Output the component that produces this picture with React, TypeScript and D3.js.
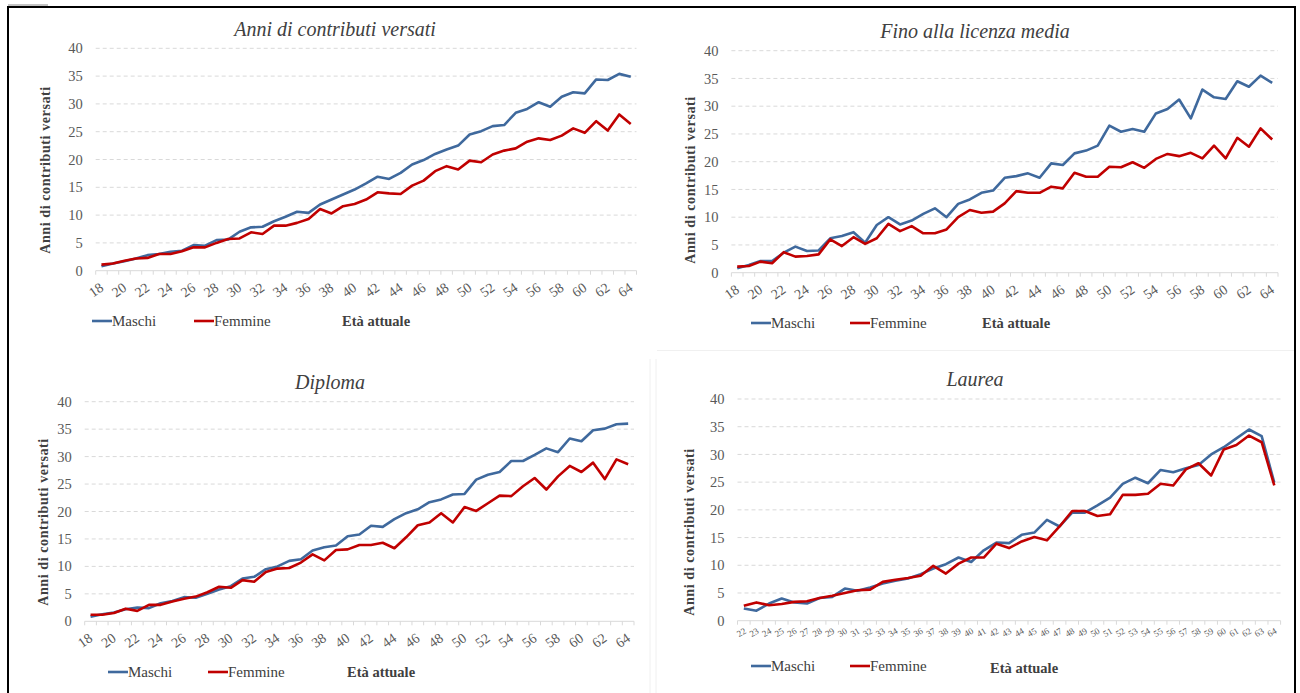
import React from 'react';
import * as d3 from 'd3';

// ---------- data ----------
const AGES = [18,19,20,21,22,23,24,25,26,27,28,29,30,31,32,33,34,35,36,37,38,39,40,41,42,43,44,45,46,47,48,49,50,51,52,53,54,55,56,57,58,59,60,61,62,63,64];
const AGES_LAUREA = [22,23,24,25,26,27,28,29,30,31,32,33,34,35,36,37,38,39,40,41,42,43,44,45,46,47,48,49,50,51,52,53,54,55,56,57,58,59,60,61,62,63,64];
const Y_TICKS = [0,5,10,15,20,25,30,35,40];

const TOT_M = [0.8,1.3,1.7,2.2,2.8,3.0,3.4,3.6,4.6,4.5, 5.5,5.6,7.0,7.8,7.9,8.9,9.7,10.6,10.4,11.9, 12.8,13.7,14.6,15.7,16.9,16.5,17.6,19.1,19.9,21.0, 21.8,22.5,24.5,25.1,26.0,26.2,28.4,29.1,30.3,29.5, 31.3,32.1,31.9,34.4,34.3,35.4,34.9];
const TOT_F = [1.1,1.3,1.8,2.2,2.3,3.0,3.0,3.5,4.2,4.2, 5.0,5.7,5.8,6.9,6.6,8.1,8.1,8.6,9.3,11.1, 10.3,11.6,12.0,12.8,14.1,13.9,13.8,15.3,16.2,17.9, 18.8,18.2,19.8,19.5,20.9,21.6,22.0,23.2,23.8,23.5, 24.3,25.6,24.8,26.9,25.2,28.1,26.4];

const LIC_M = [0.8,1.4,2.1,2.1,3.6,4.7,3.9,4.0,6.2,6.6, 7.3,5.4,8.6,10.0,8.7,9.4,10.6,11.6,10.0,12.4, 13.2,14.4,14.8,17.1,17.4,17.9,17.1,19.7,19.4,21.5, 22.0,22.9,26.5,25.4,25.9,25.4,28.7,29.5,31.2,27.8, 33.0,31.6,31.3,34.5,33.5,35.5,34.2];
const LIC_F = [1.1,1.2,2.0,1.7,3.7,2.9,3.0,3.3,6.0,4.8, 6.4,5.2,6.2,8.8,7.5,8.4,7.1,7.1,7.8,10.0, 11.3,10.8,11.0,12.5,14.7,14.4,14.4,15.5,15.2,18.0, 17.3,17.3,19.1,19.0,19.9,18.9,20.5,21.4,21.0,21.6, 20.6,22.9,20.6,24.3,22.7,26.0,24.0];

const DIP_M = [0.85,1.3,1.6,2.2,2.5,2.4,3.3,3.7,4.4,4.3, 5.0,5.8,6.4,7.8,8.1,9.5,10.0,11.0,11.3,12.9, 13.5,13.8,15.5,15.8,17.4,17.2,18.6,19.7,20.4,21.7, 22.2,23.1,23.2,25.8,26.7,27.2,29.2,29.2,30.3,31.5, 30.8,33.3,32.8,34.8,35.1,35.9,36.0];
const DIP_F = [1.2,1.2,1.5,2.3,1.9,3.0,3.0,3.6,4.1,4.5, 5.3,6.3,6.1,7.5,7.2,9.0,9.6,9.7,10.7,12.2, 11.1,13.0,13.1,13.9,13.9,14.3,13.3,15.3,17.5,18.0, 19.7,18.0,20.8,20.1,21.5,22.9,22.8,24.6,26.1,24.0, 26.4,28.3,27.2,28.9,25.9,29.5,28.6];

const LAU_M = [2.2,1.8,3.1,4.0,3.3,3.1,4.1,4.3,5.8,5.4, 6.0,6.7,7.2,7.6,8.4,9.4,10.2,11.4,10.6,12.7, 14.1,14.0,15.5,15.9,18.2,17.0,19.5,19.5,20.8,22.2, 24.7,25.8,24.8,27.2,26.8,27.5,28.1,30.0,31.3,32.9, 34.5,33.3,24.9];
const LAU_F = [2.7,3.3,2.8,3.0,3.4,3.5,4.1,4.5,5.0,5.5, 5.6,7.0,7.4,7.7,8.1,9.9,8.5,10.3,11.4,11.4, 13.9,13.1,14.3,15.1,14.5,17.0,19.8,19.8,18.9,19.2, 22.7,22.7,22.9,24.7,24.4,27.3,28.4,26.2,30.9,31.7, 33.4,32.2,24.4];

const TITLES = ['Anni di contributi versati', 'Fino alla licenza media', 'Diploma', 'Laurea'];
const SERIES_NAMES = ['Maschi', 'Femmine'];
const X_TITLE = 'Età attuale';
const Y_TITLE = 'Anni di contributi versati';

// ---------- style ----------
const BLUE = '#3F699D';
const RED = '#C00000';
const GRID = '#D9D9D9';
const TICK_TXT = '#595959';
const TXT = '#404040';
const FONT = '"Liberation Serif", "DejaVu Serif", serif';

type Layout = {
  x0: number; x1: number; yTop: number; yBot: number;
  titleX: number; titleY: number;
  yTitleX: number; yTitleY: number;
  legY: number; legM: number; legF: number; legX: number; xTitleY: number;
  labelEvery: number; labelSize: number; labelDy: number; labelRot: number;
};

const PANELS: { cats: number[]; m: number[]; f: number[]; title: string; L: Layout }[] = [
  { cats: AGES, m: TOT_M, f: TOT_F, title: TITLES[0], L: { x0: 95.7, x1: 636.5, yTop: 48.3, yBot: 270.7, titleX: 335, titleY: 36, yTitleX: 50, yTitleY: 170, legY: 321, legM: 92, legF: 194, legX: 342, xTitleY: 321, labelEvery: 2, labelSize: 14, labelDy: 19, labelRot: -35 } },
  { cats: AGES, m: LIC_M, f: LIC_F, title: TITLES[1], L: { x0: 731.4, x1: 1278, yTop: 50.7, yBot: 272.7, titleX: 975, titleY: 38, yTitleX: 695, yTitleY: 180, legY: 323, legM: 751, legF: 850, legX: 982, xTitleY: 323, labelEvery: 2, labelSize: 14, labelDy: 19, labelRot: -35 } },
  { cats: AGES, m: DIP_M, f: DIP_F, title: TITLES[2], L: { x0: 84.7, x1: 634, yTop: 401.7, yBot: 621.3, titleX: 330, titleY: 389, yTitleX: 48, yTitleY: 522, legY: 672, legM: 108, legF: 208, legX: 347, xTitleY: 672, labelEvery: 2, labelSize: 14, labelDy: 19, labelRot: -35 } },
  { cats: AGES_LAUREA, m: LAU_M, f: LAU_F, title: TITLES[3], L: { x0: 737.5, x1: 1280.6, yTop: 399, yBot: 620.7, titleX: 975, titleY: 386, yTitleX: 694, yTitleY: 532, legY: 666, legM: 751, legF: 850, legX: 990, xTitleY: 668, labelEvery: 1, labelSize: 9, labelDy: 12, labelRot: -30 } },
];

function Panel({ cats, m, f, title, L }: { cats: number[]; m: number[]; f: number[]; title: string; L: Layout }) {
  const x = d3.scaleBand<number>().domain(cats).range([L.x0, L.x1]).padding(0);
  const bw = x.bandwidth();
  const y = d3.scaleLinear().domain([0, 40]).range([L.yBot, L.yTop]);
  const cx = (c: number) => (x(c) as number) + bw / 2;
  const line = d3.line<number>().x((_, i) => cx(cats[i])).y((v) => y(v));
  const bounds = cats.map((c) => x(c) as number).concat([L.x1]);
  return (
    <g>
      <text x={L.titleX} y={L.titleY} textAnchor="middle" fontFamily={FONT} fontStyle="italic" fontSize={20} fill={TXT}>{title}</text>
      {Y_TICKS.filter((t) => t > 0).map((t) => (
        <line key={t} x1={L.x0} x2={L.x1} y1={y(t)} y2={y(t)} stroke={GRID} strokeWidth={1} strokeDasharray="4,3" />
      ))}
      {Y_TICKS.map((t) => (
        <text key={'l' + t} x={L.x0 - 13} y={y(t)} dy="0.35em" textAnchor="end" fontFamily={FONT} fontSize={14.5} fill={TICK_TXT}>{t}</text>
      ))}
      <line x1={L.x0} x2={L.x1} y1={L.yBot} y2={L.yBot} stroke={GRID} strokeWidth={1} />
      {bounds.map((b, i) => (
        <line key={'t' + i} x1={b} x2={b} y1={L.yBot} y2={L.yBot + 4} stroke={GRID} strokeWidth={1} />
      ))}
      {cats.map((c, i) => (i % L.labelEvery === 0 ? (
        <text key={'x' + c} transform={`translate(${cx(c) + 3},${L.yBot + L.labelDy}) rotate(${L.labelRot})`} textAnchor="end" fontFamily={FONT} fontSize={L.labelSize} fill={TICK_TXT}>{c}</text>
      ) : null))}
      <text transform={`translate(${L.yTitleX},${L.yTitleY}) rotate(-90)`} textAnchor="middle" fontFamily={FONT} fontWeight="bold" fontSize={14} letterSpacing={0.6} fill={TXT}>{Y_TITLE}</text>
      <path d={line(m) || ''} fill="none" stroke={BLUE} strokeWidth={2.6} strokeLinejoin="round" />
      <path d={line(f) || ''} fill="none" stroke={RED} strokeWidth={2.6} strokeLinejoin="round" />
      <line x1={L.legM} x2={L.legM + 20} y1={L.legY} y2={L.legY} stroke={BLUE} strokeWidth={2.6} />
      <text x={L.legM + 20} y={L.legY} dy="0.35em" fontFamily={FONT} fontSize={15} fill={TXT}>{SERIES_NAMES[0]}</text>
      <line x1={L.legF} x2={L.legF + 20} y1={L.legY} y2={L.legY} stroke={RED} strokeWidth={2.6} />
      <text x={L.legF + 20} y={L.legY} dy="0.35em" fontFamily={FONT} fontSize={15} fill={TXT}>{SERIES_NAMES[1]}</text>
      <text x={L.legX} y={L.xTitleY} dy="0.35em" fontFamily={FONT} fontSize={14.5} fontWeight="bold" fill={TXT}>{X_TITLE}</text>
    </g>
  );
}

export default function App() {
  return (
    <svg width={1300} height={693} style={{ position: 'absolute', left: 0, top: 0, background: '#fff' }}>
      <rect x={0} y={0} width={1300} height={693} fill="#fff" />
      <line x1={8} x2={48} y1={5} y2={5} stroke="#888" strokeWidth={1} />
      <line x1={650} x2={650} y1={359} y2={693} stroke="#F0F0F0" strokeWidth={1} />
      <line x1={656} x2={656} y1={359} y2={693} stroke="#F0F0F0" strokeWidth={1} />
      <line x1={657} x2={1294} y1={350.5} y2={350.5} stroke="#F0F0F0" strokeWidth={1} />
      <rect x={8} y={7} width={1287} height={700} fill="none" stroke="#000" strokeWidth={2} />
      {PANELS.map((p, i) => (
        <Panel key={i} {...p} />
      ))}
    </svg>
  );
}
